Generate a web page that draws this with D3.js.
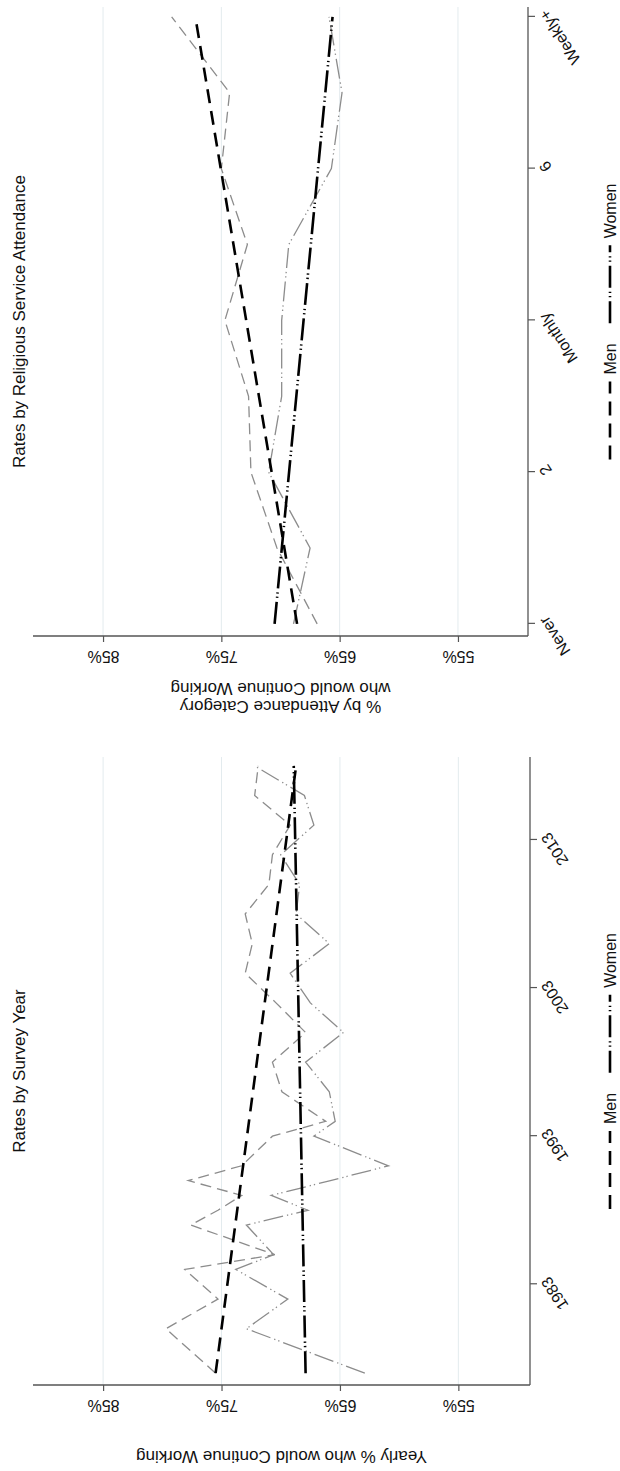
<!DOCTYPE html>
<html><head><meta charset="utf-8">
<script src="https://cdn.jsdelivr.net/npm/d3@7/dist/d3.min.js"></script>
<style>
body{margin:0;background:#fff}
text{font-family:"Liberation Sans",Arial,Helvetica,sans-serif;fill:#111}
</style>
</head><body>
<svg id="c" width="620" height="1471"></svg>
<script>
// ---------- DATA ----------
const valueTicks = [55, 65, 75, 85];

// Panel 1: religious service attendance (0 = never ... 8 = more than weekly)
const attendCats = [0, 1, 2, 3, 4, 5, 6, 7, 8];
const attendTickVals = [0, 2, 4, 6, 8];
const attendTickLabels = ["Never", "2", "Monthly", "6", "Weekly+"];
const attendMen   = [66.9, 70.3, 72.5, 72.7, 74.7, 72.8, 75.0, 74.3, 79.2];
const attendWomen = [68.9, 67.5, 71.0, 69.9, 69.9, 69.3, 65.7, 64.8, 65.9];
const attendFitCats = [0, 8];
const attendMenFit   = [68.6, 77.2];
const attendWomenFit = [70.5, 65.6];

// Panel 2: survey year
const years = [1977, 1980, 1982, 1984, 1985, 1987, 1988, 1989, 1990, 1991, 1993, 1994,
               1996, 1998, 2000, 2002, 2004, 2006, 2008, 2010, 2012, 2014, 2016, 2018];
const yearMen   = [75.5, 79.7, 75.3, 78.1, 70.5, 77.6, 75.3, 73.3, 77.8, 73.3, 70.7, 66.2,
                   69.9, 70.7, 67.9, 70.4, 73.0, 72.4, 73.0, 71.0, 70.7, 69.2, 72.2, 71.9];
const yearWomen = [62.9, 72.9, 69.4, 73.8, 70.6, 72.9, 67.7, 70.8, 65.8, 60.9, 67.2, 65.4,
                   65.9, 67.9, 64.7, 67.5, 69.2, 65.9, 68.7, 68.4, 70.0, 67.2, 68.0, 72.2];
const yearTicks = [1983, 1993, 2003, 2013];
const yearFitYears = [1977, 2018];
const yearMenFit   = [75.5, 68.7];
const yearWomenFit = [67.9, 68.9];

const legendLabels = ["Men", "Women"];

// ---------- DRAW ----------
const W = 1471, H = 620;   // drawn landscape, then rotated onto the portrait page
const svg = d3.select("#c");
svg.append("rect").attr("width", 620).attr("height", 1471).attr("fill", "#fff");
const root = svg.append("g").attr("transform", `translate(0,${W}) rotate(-90)`);

const GRAY = "#8c8c8c";
const styles = {
  menRaw:   {stroke: GRAY, w: 1.3, dash: "11,6"},
  womenRaw: {stroke: GRAY, w: 1.3, dash: "20,4,1.3,3,1.3,4"},
  menFit:   {stroke: "#000", w: 2.6, dash: "14,8"},
  womenFit: {stroke: "#000", w: 2.6, dash: "22,4,1.3,3,1.3,4"}
};

function drawPanel(o) {
  const g = root.append("g");
  const x = o.x, y = o.y;
  const [x0, x1] = x.range();
  const [yb, yt] = y.range();

  g.selectAll(".grid").data(valueTicks).join("line")
    .attr("x1", x0).attr("x2", x1)
    .attr("y1", d => y(d)).attr("y2", d => y(d))
    .attr("stroke", "#e3ebee").attr("stroke-width", 1);

  const line = d3.line().x(d => x(d[0])).y(d => y(d[1]));
  function series(xs, vs, st) {
    g.append("path").datum(xs.map((v, i) => [v, vs[i]]))
      .attr("d", line).attr("fill", "none")
      .attr("stroke", st.stroke).attr("stroke-width", st.w)
      .attr("stroke-dasharray", st.dash).attr("stroke-linejoin", "miter");
  }
  series(o.xs, o.men, styles.menRaw);
  series(o.xs, o.women, styles.womenRaw);
  series(o.fitXs, o.menFit, styles.menFit);
  series(o.fitXs, o.womenFit, styles.womenFit);

  const yAxis = d3.axisLeft(y).tickValues(valueTicks).tickSize(6).tickFormat(d => d + "%");
  const ya = g.append("g").attr("transform", `translate(${x0},0)`).call(yAxis);
  ya.select(".domain").attr("d", `M0,${yb}V${yt}`).attr("stroke", "#555").attr("stroke-width", 1.3);
  ya.selectAll(".tick line").attr("stroke", "#555").attr("stroke-width", 1.2);
  ya.selectAll(".tick text")
    .attr("x", null).attr("dy", null)
    .attr("transform", "translate(-20,0) rotate(-90)")
    .attr("text-anchor", "middle").attr("dominant-baseline", "central")
    .style("font-size", "16px").style("font-family", "'Liberation Sans',Arial,sans-serif").attr("fill", "#111");

  const xAxis = d3.axisBottom(x).tickValues(o.tickVals).tickSize(7)
    .tickFormat((d, i) => o.tickLabels[i]);
  const xa = g.append("g").attr("transform", `translate(0,${yb})`).call(xAxis);
  xa.select(".domain").attr("d", `M${x0},0H${x1}`).attr("stroke", "#555").attr("stroke-width", 1.3);
  xa.selectAll(".tick line").attr("stroke", "#555").attr("stroke-width", 1.2);
  xa.selectAll(".tick text")
    .attr("y", null).attr("dy", null)
    .attr("transform", "translate(2,10) rotate(-33)")
    .attr("dy", "0.72em")
    .attr("text-anchor", "end")
    .style("font-size", "16px").style("font-family", "'Liberation Sans',Arial,sans-serif").attr("fill", "#111");

  const cx = (x0 + x1) / 2;
  g.append("text").attr("x", cx).attr("y", 25).attr("text-anchor", "middle")
    .style("font-size", "17px").text(o.title);

  const ycen = (yb + yt) / 2;
  o.yTitle.forEach((t, i) => {
    g.append("text")
      .attr("transform", `translate(${o.yTitleX[i]},${ycen}) rotate(-90)`)
      .attr("text-anchor", "middle").attr("dominant-baseline", "central")
      .style("font-size", "17px").text(t);
  });

  const keyLen = 78, gapKL = 7, colGap = 20, ly = 610;
  const lg = g.append("g");
  const tmp = legendLabels.map(t => {
    const tt = lg.append("text").style("font-size", "16px").text(t);
    const w = tt.node().getComputedTextLength(); tt.remove(); return w;
  });
  const total = keyLen * 2 + gapKL * 2 + colGap + tmp[0] + tmp[1];
  let px = cx - total / 2;
  [styles.menFit, styles.womenFit].forEach((st, i) => {
    lg.append("line").attr("x1", px).attr("x2", px + keyLen).attr("y1", ly).attr("y2", ly)
      .attr("stroke", st.stroke).attr("stroke-width", st.w).attr("stroke-dasharray", st.dash);
    px += keyLen + gapKL;
    lg.append("text").attr("x", px).attr("y", ly).attr("dominant-baseline", "central")
      .style("font-size", "16px").text(legendLabels[i]);
    px += tmp[i] + colGap;
  });
}

drawPanel({
  x: d3.scaleLinear().domain([1976.2, 2018.6]).range([86, 714]),
  y: d3.scaleLinear().domain([48.95, 90.92]).range([530, 33]),
  xs: years, men: yearMen, women: yearWomen,
  fitXs: yearFitYears, menFit: yearMenFit, womenFit: yearWomenFit,
  tickVals: yearTicks, tickLabels: yearTicks.map(String),
  title: "Rates by Survey Year",
  yTitle: ["Yearly % who would Continue Working"], yTitleX: [15]
});

drawPanel({
  x: d3.scaleLinear().domain([-0.16, 8.13]).range([835, 1464]),
  y: d3.scaleLinear().domain([49.08, 90.92]).range([528, 33]),
  xs: attendCats, men: attendMen, women: attendWomen,
  fitXs: attendFitCats, menFit: attendMenFit, womenFit: attendWomenFit,
  tickVals: attendTickVals, tickLabels: attendTickLabels,
  title: "Rates by Religious Service Attendance",
  yTitle: ["% by Attendance Category", "who would Continue Working"], yTitleX: [765, 783]
});
</script>
</body></html>
